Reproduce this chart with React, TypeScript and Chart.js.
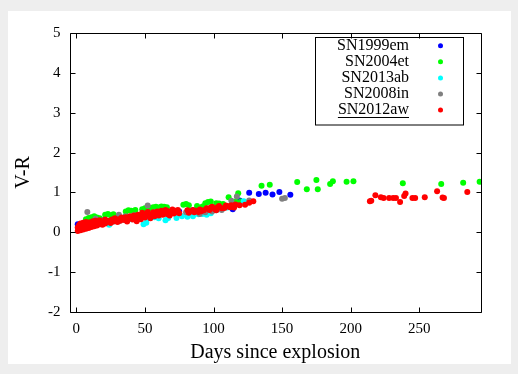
import React, { useEffect, useRef } from "react";
import { Chart, registerables } from "chart.js";

Chart.register(...registerables);

const FONT = "'Liberation Serif', 'Times New Roman', serif";

const xTickValues = [0, 50, 100, 150, 200, 250];
const yTickValues = [5, 4, 3, 2, 1, 0, -1, -2];

const seriesNames = ["SN1999em", "SN2004et", "SN2013ab", "SN2008in", "SN2012aw"];
const seriesColors = ["#0000ff", "#00ff00", "#00ffff", "#808080", "#ff0000"];

const sn1999emDays = [1, 5, 12, 20, 28, 36, 43, 50, 57, 65, 75, 85, 96, 104, 114, 119, 126, 133, 138, 143, 148, 156];
const sn1999emVR = [0.20, 0.22, 0.29, 0.31, 0.35, 0.40, 0.46, 0.45, 0.49, 0.48, 0.52, 0.55, 0.59, 0.62, 0.58, 0.80, 0.99, 0.96, 0.99, 0.95, 1.01, 0.94];

const sn2004etDays = [7, 9, 11, 13, 15, 17, 21, 23, 25, 27, 36, 38, 40, 43, 48, 50, 52, 54, 56, 58, 60, 62, 64, 66, 78, 80, 82, 88, 92, 94, 96, 98, 102, 104, 107, 111, 116, 118, 120, 135, 141, 161, 168, 175, 176, 185, 187, 197, 202, 238, 266, 282, 294];
const sn2004etVR = [0.33, 0.36, 0.38, 0.40, 0.37, 0.35, 0.44, 0.46, 0.43, 0.45, 0.52, 0.55, 0.54, 0.56, 0.58, 0.60, 0.62, 0.61, 0.63, 0.64, 0.62, 0.65, 0.64, 0.63, 0.69, 0.71, 0.68, 0.66, 0.65, 0.73, 0.76, 0.77, 0.73, 0.72, 0.71, 0.88, 0.77, 0.98, 0.77, 1.17, 1.19, 1.26, 1.08, 1.31, 1.08, 1.21, 1.28, 1.27, 1.28, 1.23, 1.21, 1.24, 1.27];

const sn2013abDays = [4, 8, 12, 17, 24, 27, 31, 35, 40, 45, 49, 51, 53, 57, 60, 65, 67, 73, 77, 81, 85, 89, 92, 95, 98, 102, 110, 122];
const sn2013abVR = [0.10, 0.15, 0.18, 0.22, 0.19, 0.27, 0.28, 0.31, 0.33, 0.34, 0.20, 0.24, 0.36, 0.38, 0.35, 0.30, 0.36, 0.36, 0.40, 0.39, 0.40, 0.45, 0.46, 0.44, 0.48, 0.55, 0.62, 0.78];

const sn2008inDays = [8, 14, 20, 31, 36, 42, 52, 57, 62, 67, 72, 80, 90, 94, 99, 106, 110, 113, 117, 126, 150, 152];
const sn2008inVR = [0.51, 0.34, 0.30, 0.44, 0.40, 0.43, 0.67, 0.50, 0.53, 0.46, 0.52, 0.50, 0.46, 0.50, 0.52, 0.56, 0.65, 0.79, 0.90, 0.80, 0.84, 0.86];

const sn2012awDays = [
  1, 1, 2, 2, 3, 3, 3, 4, 4, 5,
  5, 5, 6, 6, 7, 7, 7, 8, 8, 9,
  9, 10, 10, 11, 11, 12, 12, 13, 14, 14,
  15, 16, 17, 17, 18, 19, 20, 21, 21, 22,
  24, 25, 26, 27, 28, 29, 30, 31, 32, 33,
  35, 36, 37, 38, 39, 41, 42, 43, 44, 45,
  46, 47, 48, 49, 50, 51, 52, 53, 54, 55,
  56, 57, 58, 59, 60, 61, 62, 63, 64, 65,
  66, 67, 68, 69, 70, 71, 72, 73, 74, 75,
  81, 82, 83, 85, 86, 87, 89, 90, 91, 93,
  95, 97, 98, 99, 101, 102, 103, 104, 106, 108,
  109, 110, 112, 113, 115, 116, 119, 123, 126, 129,
  214, 215, 218, 222, 224, 228, 231, 233, 236, 239,
  240, 245, 247, 254, 263, 267, 268, 285,
];
const sn2012awVR = [
  0.03, 0.12, 0.08, 0.18, 0.05, 0.14, 0.22, 0.10, 0.19, 0.07,
  0.16, 0.24, 0.12, 0.21, 0.09, 0.18, 0.26, 0.14, 0.22, 0.11,
  0.19, 0.16, 0.25, 0.13, 0.22, 0.18, 0.28, 0.15, 0.21, 0.29,
  0.17, 0.24, 0.20, 0.30, 0.23, 0.19, 0.27, 0.22, 0.32, 0.25,
  0.29, 0.23, 0.32, 0.27, 0.35, 0.29, 0.26, 0.33, 0.29, 0.37,
  0.31, 0.38, 0.27, 0.34, 0.40, 0.32, 0.42, 0.36, 0.28, 0.44,
  0.38, 0.33, 0.49, 0.43, 0.37, 0.47, 0.51, 0.41, 0.35, 0.46,
  0.50, 0.40, 0.45, 0.52, 0.42, 0.49, 0.54, 0.44, 0.50, 0.56,
  0.46, 0.53, 0.42, 0.51, 0.57, 0.47, 0.54, 0.50, 0.56, 0.48,
  0.55, 0.49, 0.52, 0.56, 0.50, 0.54, 0.51, 0.57, 0.53, 0.55,
  0.60, 0.56, 0.62, 0.64, 0.58, 0.55, 0.63, 0.66, 0.60, 0.61,
  0.67, 0.66, 0.63, 0.68, 0.62, 0.70, 0.68, 0.69, 0.74, 0.78,
  0.78, 0.79, 0.93, 0.88, 0.86, 0.86, 0.86, 0.86, 0.76, 0.91,
  0.97, 0.86, 0.86, 0.88, 1.03, 0.87, 0.86, 1.01,
];

const seriesDays = [sn1999emDays, sn2004etDays, sn2013abDays, sn2008inDays, sn2012awDays];
const seriesVR = [sn1999emVR, sn2004etVR, sn2013abVR, sn2008inVR, sn2012awVR];

const framePlugin = {
  id: "gnuFrame",
  afterDraw(chart: any) {
    const { ctx, chartArea: a, scales } = chart;
    const L = Math.round(a.left) + 0.5;
    const R = Math.round(a.right) + 0.5;
    const T = Math.round(a.top) + 0.5;
    const B = Math.round(a.bottom) + 0.5;
    const tl = 5;
    ctx.save();
    ctx.strokeStyle = "#000";
    ctx.lineWidth = 1;
    ctx.beginPath();
    ctx.rect(L, T, R - L, B - T);
    for (const t of scales.x.ticks) {
      const px = Math.round(scales.x.getPixelForValue(t.value)) + 0.5;
      ctx.moveTo(px, B);
      ctx.lineTo(px, B - tl);
      ctx.moveTo(px, T);
      ctx.lineTo(px, T + tl);
    }
    for (const t of scales.y.ticks) {
      const py = Math.round(scales.y.getPixelForValue(t.value)) + 0.5;
      ctx.moveTo(L, py);
      ctx.lineTo(L + tl, py);
      ctx.moveTo(R, py);
      ctx.lineTo(R - tl, py);
    }
    ctx.stroke();

    // key box
    const bx = 307.5, by = 26.5, bw = 148, bh = 87.5;
    ctx.strokeRect(bx, by, bw, bh);
    ctx.font = `16px ${FONT}`;
    ctx.textAlign = "right";
    ctx.textBaseline = "middle";
    const ds = chart.data.datasets;
    ds.forEach((d: any, i: number) => {
      const y = 34.7 + i * 16.1;
      ctx.fillStyle = "#000";
      ctx.fillText(d.label, 401, y);
      if (i === ds.length - 1) {
        const w = ctx.measureText(d.label).width;
        ctx.beginPath();
        ctx.moveTo(401 - w, Math.round(y + 7) + 0.5);
        ctx.lineTo(401, Math.round(y + 7) + 0.5);
        ctx.stroke();
      }
      ctx.fillStyle = d.backgroundColor;
      ctx.beginPath();
      ctx.arc(432.5, y, 2.5, 0, Math.PI * 2);
      ctx.fill();
    });
    ctx.restore();
  },
};

export default function App() {
  const ref = useRef<HTMLCanvasElement | null>(null);
  useEffect(() => {
    if (!ref.current) return;
    const datasets = seriesNames.map((name, i) => ({
      label: name,
      data: seriesDays[i].map((d, j) => ({ x: d, y: seriesVR[i][j] })),
      backgroundColor: seriesColors[i],
      borderColor: seriesColors[i],
      borderWidth: 0,
      pointRadius: 3,
      pointHoverRadius: 3,
      showLine: false,
      order: seriesNames.length - i,
    }));
    const chart = new Chart(ref.current, {
      type: "scatter",
      data: { datasets },
      options: {
        animation: false,
        responsive: false,
        devicePixelRatio: 1,
        events: [],
        layout: { padding: { left: 0, top: 22, right: 30, bottom: 0 } },
        plugins: {
          legend: { display: false },
          tooltip: { enabled: false },
        },
        scales: {
          x: {
            type: "linear",
            min: -5,
            max: 295,
            afterBuildTicks: (s: any) => {
              s.ticks = xTickValues.map((v) => ({ value: v }));
            },
            afterFit: (s: any) => {
              s.height = 52;
            },
            grid: { display: false, drawTicks: false },
            border: { display: false },
            ticks: {
              color: "#000",
              font: { family: FONT, size: 15 },
              padding: 8,
              maxRotation: 0,
              autoSkip: false,
            },
            title: {
              display: true,
              text: "Days since explosion",
              color: "#000",
              font: { family: FONT, size: 20, lineHeight: 1.15 },
              padding: { top: 0, bottom: 0 },
            },
          },
          y: {
            type: "linear",
            min: -2,
            max: 5,
            afterBuildTicks: (s: any) => {
              s.ticks = yTickValues.map((v) => ({ value: v }));
            },
            afterFit: (s: any) => {
              s.width = 61.5;
            },
            grid: { display: false, drawTicks: false },
            border: { display: false },
            ticks: {
              color: "#000",
              font: { family: FONT, size: 15 },
              padding: 9,
              autoSkip: false,
            },
            title: {
              display: true,
              text: "V-R",
              color: "#000",
              font: { family: FONT, size: 20, lineHeight: 1.2 },
              padding: { top: 4, bottom: 0 },
            },
          },
        },
      },
      plugins: [framePlugin],
    } as any);
    return () => chart.destroy();
  }, []);

  return (
    <div
      style={{
        position: "absolute",
        left: 0,
        top: 0,
        width: 518,
        height: 374,
        background: "#eeeeee",
      }}
    >
      <canvas
        ref={ref}
        width={503}
        height={353}
        style={{
          position: "absolute",
          left: 8,
          top: 11,
          width: 503,
          height: 353,
          background: "#ffffff",
        }}
      />
    </div>
  );
}
